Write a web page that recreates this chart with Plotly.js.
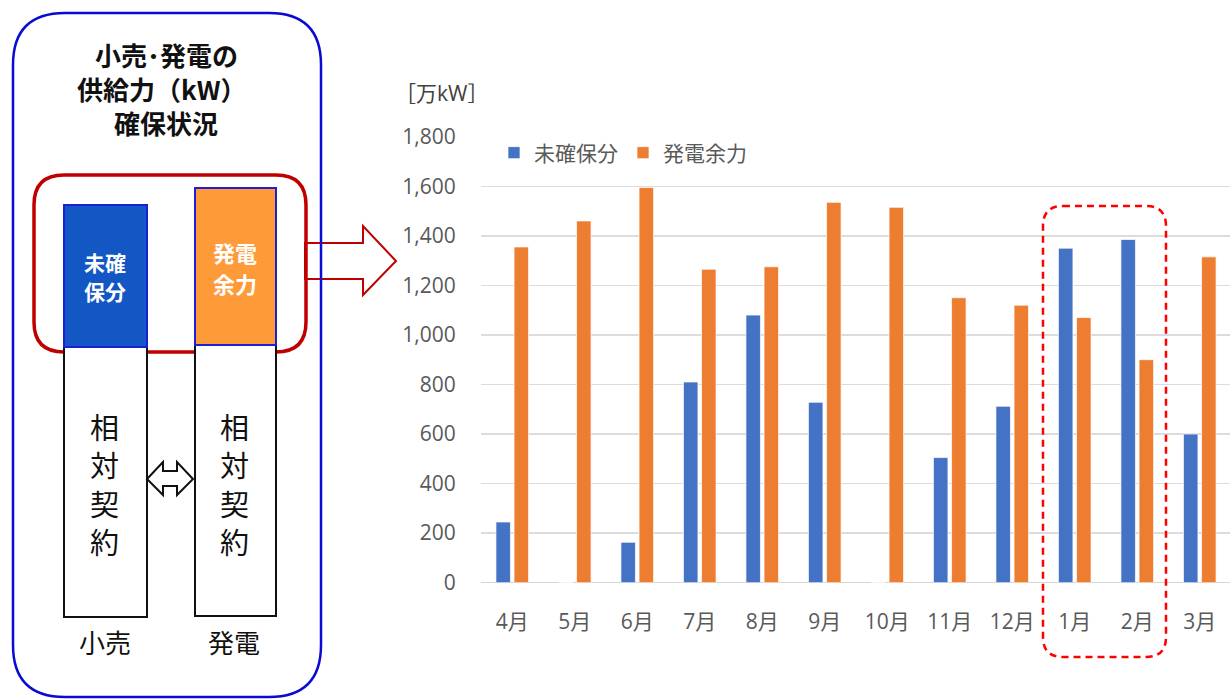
<!DOCTYPE html>
<html>
<head>
<meta charset="utf-8">
<script src="https://cdn.plot.ly/plotly-3.0.1.min.js"></script>
<style>
  html, body { margin: 0; padding: 0; background: #ffffff; }
  #chart { width: 1230px; height: 699px; }
</style>
</head>
<body>
<div id="chart"></div>
<script>
// ---- data ----
const months = ['4月','5月','6月','7月','8月','9月','10月','11月','12月','1月','2月','3月'];
const uncovered = [245, 0, 163, 810, 1080, 728, 0, 505, 712, 1350, 1385, 600];
const surplus = [1355, 1460, 1595, 1265, 1275, 1535, 1515, 1150, 1120, 1070, 900, 1315];
const seriesNames = ['未確保分', '発電余力'];
const yTitle = '［万kW］';
const diagramTitleLines = ['小売･発電の', '供給力（kW）', '確保状況'];
const uncoveredBoxLines = ['未確', '保分'];
const surplusBoxLines = ['発電', '余力'];
const contractChars = ['相', '対', '契', '約'];
const sideLabels = ['小売', '発電'];

// ---- helpers (pixel -> paper) ----
const W = 1230, H = 699;
const X = p => p / W;
const Y = p => 1 - p / H;
function roundRect(x0, y0, x1, y1, r) {
  const P = (x, y) => X(x).toFixed(5) + ',' + Y(y).toFixed(5);
  return 'M' + P(x0 + r, y0) + ' L' + P(x1 - r, y0) + ' Q' + P(x1, y0) + ' ' + P(x1, y0 + r) +
    ' L' + P(x1, y1 - r) + ' Q' + P(x1, y1) + ' ' + P(x1 - r, y1) +
    ' L' + P(x0 + r, y1) + ' Q' + P(x0, y1) + ' ' + P(x0, y1 - r) +
    ' L' + P(x0, y0 + r) + ' Q' + P(x0, y0) + ' ' + P(x0 + r, y0) + ' Z';
}
function poly(pts) {
  return 'M' + pts.map(p => X(p[0]).toFixed(5) + ',' + Y(p[1]).toFixed(5)).join(' L') + ' Z';
}
function rect(x0, y0, x1, y1, fill, lineColor, lw) {
  return {type: 'rect', xref: 'paper', yref: 'paper', x0: X(x0), x1: X(x1), y0: Y(y1), y1: Y(y0),
    fillcolor: fill, line: {color: lineColor, width: lw}, layer: 'above'};
}
function pathShape(path, fill, lineColor, lw, dash) {
  return {type: 'path', xref: 'paper', yref: 'paper', path: path, fillcolor: fill,
    line: {color: lineColor, width: lw, dash: dash || 'solid'}, layer: 'above'};
}
function ann(text, x, y, size, color, bold, family) {
  return {xref: 'paper', yref: 'paper', x: X(x), y: Y(y), xanchor: 'center', yanchor: 'middle',
    text: bold ? '<b>' + text + '</b>' : text, showarrow: false, align: 'center',
    font: {size: size, color: color, family: family || '"Noto Sans CJK JP", sans-serif'}};
}

const chartFont = '"Open Sans", "Noto Sans CJK JP", sans-serif';

const traces = [
  {type: 'bar', name: seriesNames[0], x: months, y: uncovered,
   marker: {color: '#4472C4', line: {color: 'rgba(255,255,255,0.7)', width: 1}}},
  {type: 'bar', name: seriesNames[1], x: months, y: surplus,
   marker: {color: '#ED7D31', line: {color: 'rgba(255,255,255,0.7)', width: 1}}}
];

const shapes = [
  // red block arrow
  pathShape(poly([[305,243],[363,243],[363,226],[396,261],[363,295],[363,279],[305,279]]), '#ffffff', '#C00000', 2),
  // red rounded rect
  pathShape(roundRect(34, 175, 306, 352, 30), 'rgba(0,0,0,0)', '#C00000', 3.5),
  // retail: uncovered box + contract box
  rect(64, 347, 147, 617, '#ffffff', '#111111', 2),
  rect(64, 205, 147, 347, '#1257C4', '#1E1ED2', 2),
  // generation: surplus box + contract box
  rect(195, 345, 276, 616, '#ffffff', '#111111', 2),
  rect(195, 188, 276, 345, '#FE9B38', '#1E1ED2', 2),
  // double arrow
  pathShape(poly([[147,479],[163,462],[163,471],[177,471],[177,462],[193,479],[177,495],[177,486],[163,486],[163,495]]),
    '#ffffff', '#111111', 2),
  // outer blue rounded rect
  pathShape(roundRect(13, 13, 321, 697, 52), 'rgba(0,0,0,0)', '#0A0AD2', 2.5),
  // red dashed highlight
  pathShape(roundRect(1043, 206, 1166, 657, 20), 'rgba(0,0,0,0)', '#FF0000', 2.5, '7px,5px')
];

const annotations = [];
const titleX = [166, 162, 166], titleY = [54, 88, 122];
diagramTitleLines.forEach((t, i) => annotations.push(ann(t, titleX[i], titleY[i], 26, '#111111', true)));
[262, 291].forEach((y, i) => annotations.push(ann(uncoveredBoxLines[i], 105, y, 21, '#ffffff', true)));
[252, 283].forEach((y, i) => annotations.push(ann(surplusBoxLines[i], 235, y, 22, '#ffffff', true)));
[426, 464, 503, 541].forEach((y, i) => {
  annotations.push(ann(contractChars[i], 104, y, 29, '#111111', false));
  annotations.push(ann(contractChars[i], 234, y, 29, '#111111', false));
});
annotations.push(ann(sideLabels[0], 105, 641, 26, '#111111', false));
annotations.push(ann(sideLabels[1], 234, 641, 26, '#111111', false));
annotations.push(ann(yTitle, 441, 93, 21, '#404040', false, chartFont));

const layout = {
  width: W, height: H,
  margin: {l: 0, r: 0, t: 0, b: 0, pad: 0},
  paper_bgcolor: '#ffffff', plot_bgcolor: '#ffffff',
  barmode: 'group', bargap: 0.42, bargroupgap: 0.2,
  showlegend: true,
  legend: {orientation: 'h', x: X(494), y: Y(153), xanchor: 'left', yanchor: 'middle',
    font: {size: 21, color: '#595959', family: chartFont}, bgcolor: 'rgba(0,0,0,0)',
    itemwidth: 30, traceorder: 'normal'},
  xaxis: {domain: [X(481), 1], range: [-0.5, 11.484], type: 'category',
    showgrid: false, showline: false, zeroline: false,
    ticks: 'outside', ticklen: 20, tickcolor: 'rgba(0,0,0,0)',
    tickfont: {size: 21, color: '#595959', family: chartFont}},
  yaxis: {domain: [Y(582.7), Y(136.7)], range: [0, 1800], dtick: 200, tickformat: ',d',
    showgrid: true, gridcolor: '#DCDCDC', gridwidth: 1.5,
    zeroline: true, zerolinecolor: '#D6D6D6', zerolinewidth: 1.5, showline: false,
    ticks: 'outside', ticklen: 20, tickcolor: 'rgba(0,0,0,0)',
    tickfont: {size: 21, color: '#595959', family: chartFont}},
  shapes: shapes,
  annotations: annotations,
  font: {family: chartFont}
};

Plotly.newPlot('chart', traces, layout, {displayModeBar: false, staticPlot: true});
</script>
</body>
</html>
